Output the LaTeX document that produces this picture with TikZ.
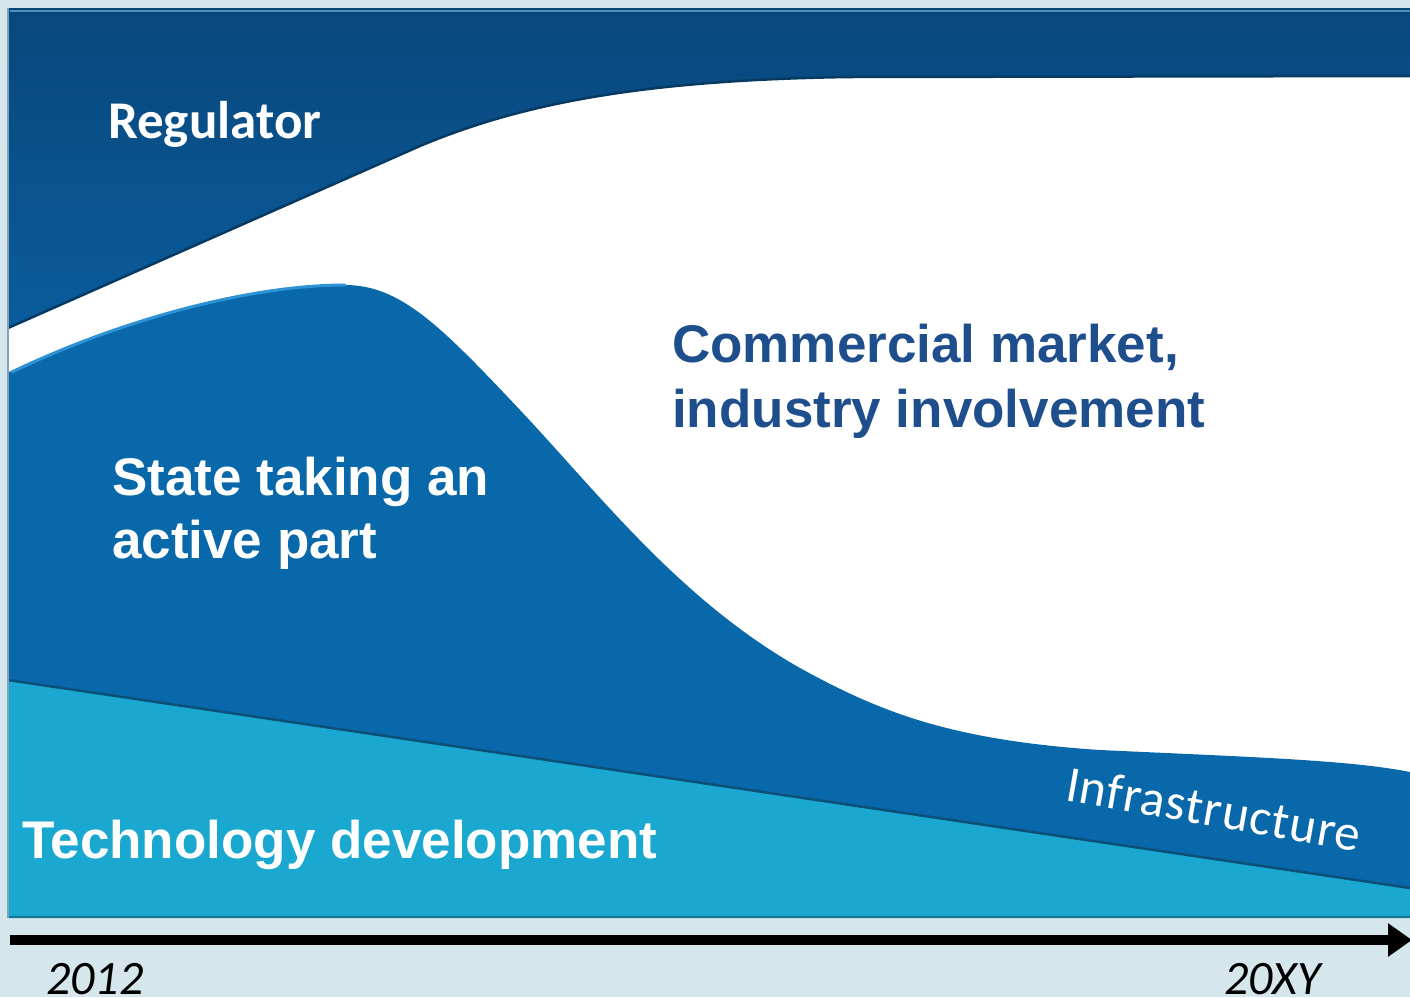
\documentclass[tikz,border=0pt]{standalone}
\usepackage{fontspec}
\setmainfont{Liberation Sans}
\newfontfamily\calibri{Carlito}
\newfontfamily\calibrispaced[LetterSpace=2]{Carlito}
\usepackage{tikz}
\usetikzlibrary{arrows.meta}
\definecolor{page-bg}{HTML}{D5E6ED}
\definecolor{regulator-top}{HTML}{08477C}
\definecolor{regulator-bottom}{HTML}{0A5C9C}
\definecolor{state-blue}{HTML}{0868A9}
\definecolor{state-edge}{HTML}{2E92D6}
\definecolor{tech-blue}{HTML}{1AA8D0}
\definecolor{shadow-blue}{HTML}{073A62}
\definecolor{market-blue}{HTML}{1F4E8C}
\tikzset{
    band-label/.style = {text=white, font=\bfseries\fontsize{53}{63}\selectfont, inner sep=0pt, align=left},
    market-label/.style = {text=market-blue, font=\bfseries\fontsize{53}{65}\selectfont, inner sep=0pt, align=left},
    year-label/.style = {font=\calibri\itshape\fontsize{48}{50}\selectfont, inner sep=0pt},
    shadow-edge/.style = {draw=shadow-blue, line width=2.5pt, line join=round},
    bevel-edge/.style = {draw=state-edge, line width=3pt, line cap=round},
    time-axis/.style = {line width=10pt, -{Triangle[length=24pt, width=32pt]}},
}
\newcommand{\regulatoredge}{(8,328) -- (420,146) .. controls (520,104) and (640,80) .. (850,77) -- (1410,76)}
\newcommand{\stateedge}{(9,372) .. controls (120,320) and (250,285) .. (345,285) .. controls (400,285) and (440,325) .. (520,410) .. controls (600,495) and (680,600) .. (800,668) .. controls (880,712) and (950,740) .. (1100,750) .. controls (1250,757) and (1350,760) .. (1410,772)}
\begin{document}
\begin{tikzpicture}[x=1pt, y=-1pt]
\useasboundingbox (0,0) rectangle (1410,997);
\fill[page-bg] (0,0) rectangle (1410,997);
\fill[white] (8,8) rectangle (1410,918);
\fill[top color=regulator-top, bottom color=regulator-bottom] (8,8) -- (1410,8) -- (1410,76) -- (850,77) .. controls (640,80) and (520,104) .. (420,146) -- (8,328) -- cycle;
\draw[shadow-edge] \regulatoredge;
\draw[draw=regulator-bottom!70!white, line width=2pt] (10,11) -- (1410,11);
\fill[tech-blue] (8,680) -- (1410,888) -- (1410,918) -- (8,918) -- cycle;
\fill[state-blue] \stateedge -- (1410,888) -- (8,680) -- cycle;
\draw[bevel-edge] ([yshift=-2pt]12,370) .. controls (120,320) and (250,285) .. (345,285);
\draw[shadow-edge, draw=shadow-blue!80!tech-blue] (8,680) -- (1410,888);
\draw[draw=tech-blue!70!black, line width=2pt] (8,917) -- (1410,917);
\draw[draw=shadow-blue!40!page-bg, line width=1.5pt] (8,8) -- (8,918);
\node[band-label, font=\calibri\bfseries\fontsize{53}{60}\selectfont, anchor=base west] (regulator) at (108,138) {Regulator};
\node[band-label, anchor=base west] (state) at (112,558) {State taking an\\active part};
\node[market-label, anchor=base west] (market) at (672,427) {Commercial market,\\industry involvement};
\node[band-label, anchor=base west] (tech) at (22,858) {Technology development};
\node[band-label, font=\calibrispaced\fontsize{51}{60}\selectfont, anchor=base west, rotate=-10] (infra) at (1064,800) {Infrastructure};
\coordinate (axis-start) at (10,940);
\coordinate (axis-end) at (1412,940);
\draw[time-axis] (axis-start) -- (axis-end);
\node[year-label, anchor=base west] (start-year) at (46,994) {2012};
\node[year-label, anchor=base west] (end-year) at (1224,994) {20XY};
\end{tikzpicture}
\end{document}
